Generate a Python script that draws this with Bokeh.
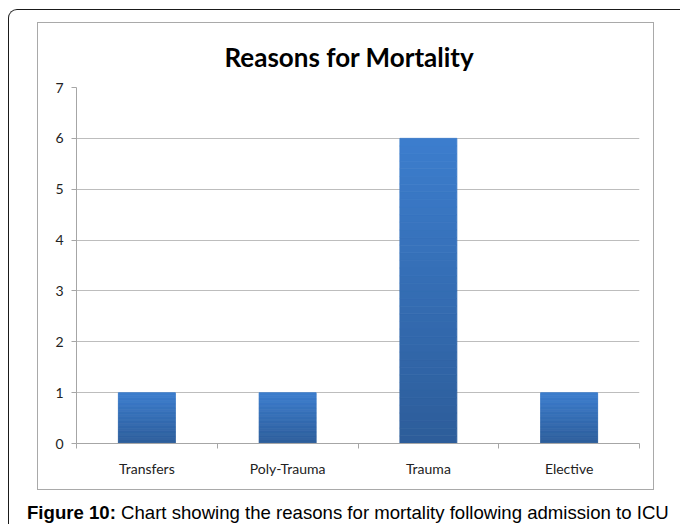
from bokeh.plotting import figure
from bokeh.layouts import column
from bokeh.models import Range1d, FixedTicker, Div
from bokeh.embed import file_html
from bokeh.resources import INLINE

# ---- data ----
categories = ["Transfers", "Poly-Trauma", "Trauma", "Elective"]
deaths = [1, 1, 6, 1]
y_ticks = [0, 1, 2, 3, 4, 5, 6, 7]
title_text = "Reasons for Mortality"
caption_bold = "Figure 10:"
caption_rest = "Chart showing the reasons for mortality following admission to ICU"

p = figure(width=617, height=468, title=title_text,
           x_range=Range1d(0, len(categories)), y_range=Range1d(0, max(y_ticks)),
           output_backend="svg", toolbar_location=None,
           min_border_left=38, min_border_right=16, min_border_top=64, min_border_bottom=48,
           margin=(12, 0, 0, 28),
           styles={"border": "1.5px solid #a9a9a9"})
p.outline_line_color = None
p.background_fill_color = None
p.border_fill_color = None

# title
p.title.align = "left"
p.title.offset = 148
p.title.text_font = "Lato"
p.title.text_font_style = "bold"
p.title.text_font_size = "26px"
p.title.text_color = "black"
p.title.standoff = 30

# ---- gradient bars (stacked slices of each bar) ----
N = 40
top_rgb = (0x3c, 0x7d, 0xcd)
bot_rgb = (0x2d, 0x5d, 0x9a)
xs, bottoms, tops, colors = [], [], [], []
for i, v in enumerate(deaths):
    for k in range(N):
        f = k / (N - 1)
        c = tuple(round(b + (t - b) * f) for t, b in zip(top_rgb, bot_rgb))
        xs.append(i + 0.5)
        bottoms.append(v * k / N)
        tops.append(v * (k + 1) / N)
        colors.append("#%02x%02x%02x" % c)
p.vbar(x=xs, bottom=bottoms, top=tops, width=0.405,
       fill_color=colors, line_color=colors, line_width=0.8)

# ---- grid ----
p.xgrid.visible = False
p.ygrid.ticker = FixedTicker(ticks=y_ticks)
p.ygrid.grid_line_color = "#bdbdbd"
p.ygrid.grid_line_width = 1

# ---- y axis ----
p.yaxis.ticker = FixedTicker(ticks=y_ticks)
p.yaxis.axis_line_color = "#a6a6a6"
p.yaxis.major_tick_line_color = "#a6a6a6"
p.yaxis.major_tick_out = 5
p.yaxis.major_tick_in = 0
p.yaxis.minor_tick_line_color = None
p.yaxis.major_label_standoff = 8
p.yaxis.major_label_text_font = "Lato"
p.yaxis.major_label_text_font_size = "14px"
p.yaxis.major_label_text_color = "#222222"

# ---- x axis ----
p.xaxis.ticker = FixedTicker(ticks=[i + 0.5 for i in range(len(categories))],
                             minor_ticks=list(range(len(categories) + 1)))
p.xaxis.major_label_overrides = {i + 0.5: c for i, c in enumerate(categories)}
p.xaxis.axis_line_color = "#a6a6a6"
p.xaxis.major_tick_line_color = None
p.xaxis.major_tick_out = 0
p.xaxis.major_tick_in = 0
p.xaxis.minor_tick_line_color = "#a6a6a6"
p.xaxis.minor_tick_out = 5
p.xaxis.minor_tick_in = 0
p.xaxis.major_label_standoff = 11
p.xaxis.major_label_text_font = "Lato"
p.xaxis.major_label_text_font_size = "14px"
p.xaxis.major_label_text_color = "#222222"

# ---- caption ----
cap = Div(text=f"<b>{caption_bold}</b> {caption_rest}", width=650, height=22,
          margin=(12, 0, 0, 18),
          styles={"font-family": "'Liberation Sans', Arial, sans-serif",
                  "font-size": "18.6px", "line-height": "21px",
                  "white-space": "nowrap", "color": "black"})

page = column(p, cap, width=672, margin=(9, 0, 0, 8),
              styles={"border-top": "1.5px solid #1a1a1a",
                      "border-left": "1.5px solid #1a1a1a",
                      "border-top-left-radius": "9px"})

open("out.html", "w").write(file_html(page, INLINE))
